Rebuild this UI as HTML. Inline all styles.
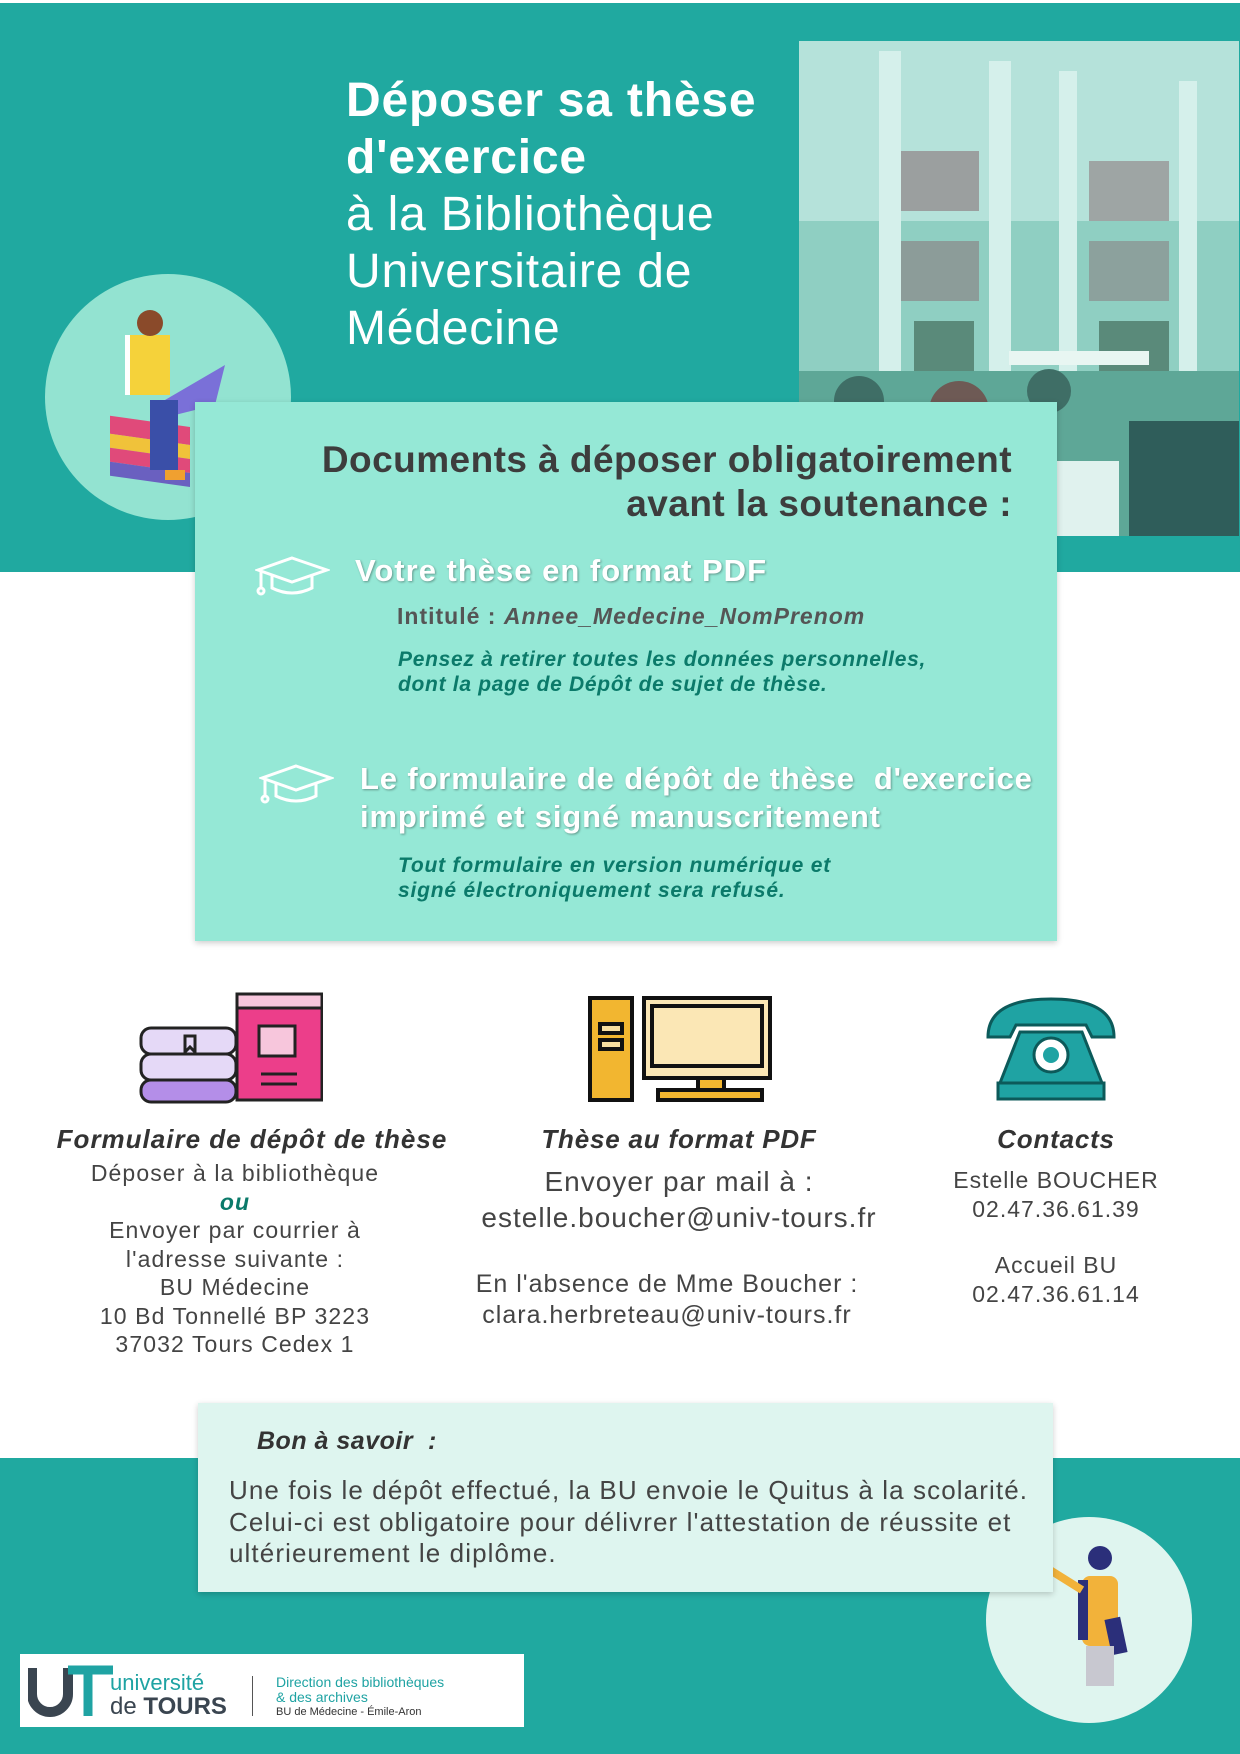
<!DOCTYPE html>
<html><head><meta charset="utf-8">
<style>
*{margin:0;padding:0;box-sizing:border-box}
body{width:1240px;height:1754px;position:relative;background:#fff;font-family:"Liberation Sans",sans-serif;overflow:hidden}
.a{position:absolute;white-space:nowrap}
.c{position:absolute;white-space:nowrap;transform:translateX(-50%);text-align:center}
.sh{text-shadow:1px 1px 2px rgba(0,0,0,.35)}
</style></head><body>
<div class="a" style="left:0;top:3px;width:1240px;height:569px;background:#20a9a0"></div>
<div class="a" style="left:0;top:1458px;width:1240px;height:296px;background:#20a9a0"></div>

<!-- photo -->
<svg class="a" style="left:799px;top:41px" width="440" height="495" viewBox="0 0 440 495">
<rect width="440" height="495" fill="#8fcfc2"/>
<rect x="0" y="0" width="440" height="180" fill="#b5e2da"/>
<rect x="100" y="110" width="80" height="60" fill="#8a7378" opacity=".6"/>
<rect x="100" y="200" width="80" height="60" fill="#8a7378" opacity=".55"/>
<rect x="290" y="120" width="80" height="60" fill="#8a7378" opacity=".55"/>
<rect x="290" y="200" width="80" height="60" fill="#8a7378" opacity=".5"/>
<rect x="80" y="10" width="22" height="340" fill="#d5f0eb"/>
<rect x="190" y="20" width="22" height="330" fill="#d5f0eb"/>
<rect x="260" y="30" width="18" height="320" fill="#d5f0eb"/>
<rect x="380" y="40" width="18" height="320" fill="#d5f0eb"/>
<rect x="115" y="280" width="60" height="70" fill="#5a8a7a"/>
<rect x="300" y="280" width="70" height="70" fill="#5a8a7a"/>
<rect x="0" y="330" width="440" height="165" fill="#5ea797"/>
<rect x="210" y="310" width="140" height="14" fill="#e8f6f2"/>
<circle cx="60" cy="360" r="25" fill="#3f6e66"/>
<circle cx="160" cy="370" r="30" fill="#6e5a55"/>
<circle cx="250" cy="350" r="22" fill="#3f6e66"/>
<rect x="20" y="380" width="90" height="80" fill="#356a63"/>
<rect x="130" y="400" width="90" height="95" fill="#4a6f68"/>
<rect x="330" y="380" width="110" height="115" fill="#2f5d5a"/>
<rect x="230" y="420" width="90" height="75" fill="#e0f2ee"/>
<rect x="0" y="455" width="230" height="40" fill="#6cb04f" opacity=".7"/>
</svg>

<!-- title -->
<div class="a" style="left:346px;top:72px;color:#fff;font-size:48px;line-height:57px;letter-spacing:0.8px">
<div style="font-weight:bold">Déposer sa thèse</div>
<div style="font-weight:bold">d'exercice</div>
<div>à la Bibliothèque</div>
<div>Universitaire de</div>
<div>Médecine</div>
</div>

<!-- left circle -->
<div class="a" style="left:45px;top:274px;width:246px;height:246px;border-radius:50%;background:#93e3d1"></div>
<svg class="a" style="left:105px;top:305px" width="130" height="190" viewBox="0 0 130 190">
<rect x="5" y="110" width="80" height="18" fill="#e04a7a" transform="skewY(8)"/>
<rect x="5" y="128" width="80" height="14" fill="#f0c23a" transform="skewY(8)"/>
<rect x="5" y="142" width="80" height="14" fill="#e04a7a" transform="skewY(8)"/>
<rect x="5" y="156" width="80" height="14" fill="#6a60c0" transform="skewY(8)"/>
<rect x="20" y="30" width="14" height="60" fill="#fff"/>
<rect x="25" y="30" width="40" height="60" fill="#f5d23a"/>
<circle cx="45" cy="18" r="13" fill="#8a4a2a"/>
<polygon points="60,95 120,60 110,100 70,110" fill="#7a70d8"/>
<rect x="45" y="95" width="28" height="70" fill="#3a4fa8"/>
<rect x="60" y="165" width="20" height="10" fill="#f0a030"/>
</svg>

<!-- mint box -->
<div class="a" style="left:195px;top:402px;width:862px;height:539px;background:#95e8d6;box-shadow:0 2px 6px rgba(0,0,0,.2)"></div>
<div class="a" style="right:228px;top:438px;color:#3d3d3d;font-size:37px;font-weight:bold;line-height:44px;text-align:right;letter-spacing:0.45px">Documents à déposer obligatoirement<br>avant la soutenance :</div>

<svg class="a" style="left:255px;top:555px" width="75" height="42" viewBox="0 0 75 42" fill="none" stroke="#fff" stroke-width="3">
<polygon points="37,3 72,15 37,27 3,15"/><path d="M17,20 v13 q20,10 40,0 v-13"/><path d="M6,16 v18"/><circle cx="6" cy="36" r="3"/>
</svg>
<svg class="a" style="left:259px;top:763px" width="75" height="42" viewBox="0 0 75 42" fill="none" stroke="#fff" stroke-width="3">
<polygon points="37,3 72,15 37,27 3,15"/><path d="M17,20 v13 q20,10 40,0 v-13"/><path d="M6,16 v18"/><circle cx="6" cy="36" r="3"/>
</svg>

<div class="a sh" style="left:355px;top:553px;color:#fff;font-size:31px;font-weight:bold;letter-spacing:1px">Votre thèse en format PDF</div>
<div class="a" style="left:397px;top:603px;color:#555;font-size:23px;font-weight:bold;letter-spacing:1px">Intitulé : <i>Annee_Medecine_NomPrenom</i></div>
<div class="a" style="left:398px;top:647px;color:#0b7a6a;font-size:21px;font-weight:bold;font-style:italic;line-height:25px;letter-spacing:0.7px">Pensez à retirer toutes les données personnelles,<br>dont la page de Dépôt de sujet de thèse.</div>

<div class="a sh" style="left:360px;top:760px;color:#fff;font-size:31px;font-weight:bold;line-height:38px;letter-spacing:0.85px">Le formulaire de dépôt de thèse&nbsp; d'exercice<br>imprimé et signé manuscritement</div>
<div class="a" style="left:398px;top:853px;color:#0b7a6a;font-size:21px;font-weight:bold;font-style:italic;line-height:25px;letter-spacing:0.8px">Tout formulaire en version numérique et<br>signé électroniquement sera refusé.</div>

<!-- icons -->
<svg class="a" style="left:137px;top:986px" width="186" height="118" viewBox="0 0 186 118" stroke="#222" stroke-width="3">
<rect x="4" y="42" width="95" height="26" rx="10" fill="#e5d9f7"/>
<rect x="4" y="68" width="95" height="26" rx="10" fill="#e5d9f7"/>
<rect x="4" y="94" width="95" height="22" rx="10" fill="#b48ee8"/>
<rect x="100" y="8" width="85" height="20" fill="#f7c6dc"/>
<rect x="100" y="22" width="85" height="92" fill="#ec3e8a"/>
<rect x="122" y="40" width="36" height="30" fill="#f7c6dc"/>
<line x1="124" y1="88" x2="160" y2="88"/><line x1="124" y1="98" x2="160" y2="98"/>
<polygon points="48,50 58,50 58,66 53,61 48,66" fill="#e5d9f7"/>
</svg>
<svg class="a" style="left:586px;top:994px" width="188" height="110" viewBox="0 0 188 110" stroke="#111" stroke-width="4">
<rect x="4" y="4" width="42" height="102" fill="#f2b630"/>
<rect x="14" y="30" width="22" height="9" fill="#f7dea0"/><rect x="14" y="46" width="22" height="9" fill="#f7dea0"/>
<rect x="58" y="4" width="126" height="80" fill="#fbe7b5"/>
<rect x="66" y="12" width="110" height="60" fill="#fbe7b5"/>
<rect x="112" y="84" width="26" height="12" fill="#f2b630"/>
<rect x="72" y="96" width="104" height="10" fill="#f2b630"/>
</svg>
<svg class="a" style="left:980px;top:997px" width="142" height="104" viewBox="0 0 142 104">
<path d="M8,40 q0,-38 63,-38 q63,0 63,38 l-22,0 l-6,-12 l-70,0 l-6,12z" fill="#1fa3a3" stroke="#0c5a5a" stroke-width="3"/>
<polygon points="40,35 102,35 122,86 20,86" fill="#1fa3a3" stroke="#0c5a5a" stroke-width="3"/>
<rect x="18" y="86" width="106" height="16" fill="#1fa3a3" stroke="#0c5a5a" stroke-width="3"/>
<circle cx="71" cy="58" r="17" fill="#fff" stroke="#0c5a5a" stroke-width="3"/>
<circle cx="71" cy="58" r="8" fill="#1fa3a3"/>
</svg>

<!-- columns -->
<div class="c" style="left:252px;top:1124px;color:#333;font-size:26px;font-weight:bold;font-style:italic;letter-spacing:1px">Formulaire de dépôt de thèse</div>
<div class="c" style="left:235px;top:1159px;color:#444;font-size:23px;line-height:28.5px;letter-spacing:1.1px">Déposer à la bibliothèque<br><b style="color:#0b7a6a;font-style:italic">ou</b><br>Envoyer par courrier à<br>l'adresse suivante :<br>BU Médecine<br>10 Bd Tonnellé BP 3223<br>37032 Tours Cedex 1</div>

<div class="c" style="left:679px;top:1124px;color:#333;font-size:26px;font-weight:bold;font-style:italic;letter-spacing:0.8px">Thèse au format PDF</div>
<div class="c" style="left:679px;top:1164px;color:#444;font-size:28px;line-height:36px;letter-spacing:1px">Envoyer par mail à :<br>estelle.boucher@univ-tours.fr</div>
<div class="c" style="left:667px;top:1269px;color:#444;font-size:25px;line-height:31px;letter-spacing:1px">En l'absence de Mme Boucher :<br>clara.herbreteau@univ-tours.fr</div>

<div class="c" style="left:1056px;top:1124px;color:#333;font-size:26px;font-weight:bold;font-style:italic;letter-spacing:0.8px">Contacts</div>
<div class="c" style="left:1056px;top:1166px;color:#444;font-size:23px;line-height:28.5px;letter-spacing:1px">Estelle BOUCHER<br>02.47.36.61.39</div>
<div class="c" style="left:1056px;top:1251px;color:#444;font-size:23px;line-height:28.5px;letter-spacing:1px">Accueil BU<br>02.47.36.61.14</div>

<!-- right circle -->
<div class="a" style="left:986px;top:1517px;width:206px;height:206px;border-radius:50%;background:#dff5ef"></div>
<svg class="a" style="left:1020px;top:1540px" width="150" height="150" viewBox="0 0 150 150">
<circle cx="80" cy="18" r="12" fill="#2b2f7a"/>
<rect x="62" y="36" width="36" height="70" rx="8" fill="#f2b23a"/>
<rect x="58" y="40" width="10" height="60" fill="#2b2f7a"/>
<line x1="62" y1="50" x2="30" y2="30" stroke="#f2b23a" stroke-width="8"/>
<rect x="88" y="78" width="16" height="36" fill="#2b2f7a" transform="rotate(-12 96 96)"/>
<rect x="66" y="106" width="28" height="40" fill="#c8c8d0"/>
</svg>

<!-- bon a savoir -->
<div class="a" style="left:198px;top:1403px;width:855px;height:189px;background:#def5ef;box-shadow:0 2px 6px rgba(0,0,0,.2)"></div>
<div class="a" style="left:257px;top:1427px;color:#333;font-size:25px;font-weight:bold;font-style:italic;letter-spacing:0.5px">Bon à savoir&nbsp; :</div>
<div class="a" style="left:229px;top:1475px;color:#444;font-size:26px;line-height:31.5px;letter-spacing:1.1px">Une fois le dépôt effectué, la BU envoie le Quitus à la scolarité.<br>Celui-ci est obligatoire pour délivrer l'attestation de réussite et<br>ultérieurement le diplôme.</div>

<!-- logo -->
<div class="a" style="left:20px;top:1654px;width:504px;height:73px;background:#fff"></div>
<svg class="a" style="left:28px;top:1664px" width="90" height="56" viewBox="0 0 90 56">
<path d="M4,4 v26 a18,18 0 0 0 36,0 v-26" fill="none" stroke="#3a4550" stroke-width="10"/>
<path d="M40,6 h45" stroke="#1fa3a3" stroke-width="9"/><path d="M60,6 v46" stroke="#1fa3a3" stroke-width="9"/>
</svg>
<div class="a" style="left:110px;top:1671px;color:#1fa3a3;font-size:22px;line-height:24px">université</div>
<div class="a" style="left:110px;top:1694px;color:#3a4550;font-size:24px;line-height:26px">de <b>TOURS</b></div>
<div class="a" style="left:252px;top:1676px;width:2px;height:40px;border-left:1px solid #555"></div>
<div class="a" style="left:276px;top:1675px;color:#1fa3a3;font-size:14px;line-height:15px">Direction des bibliothèques<br>&amp; des archives</div>
<div class="a" style="left:276px;top:1706px;color:#333;font-size:11px">BU de Médecine - Émile-Aron</div>
</body></html>
